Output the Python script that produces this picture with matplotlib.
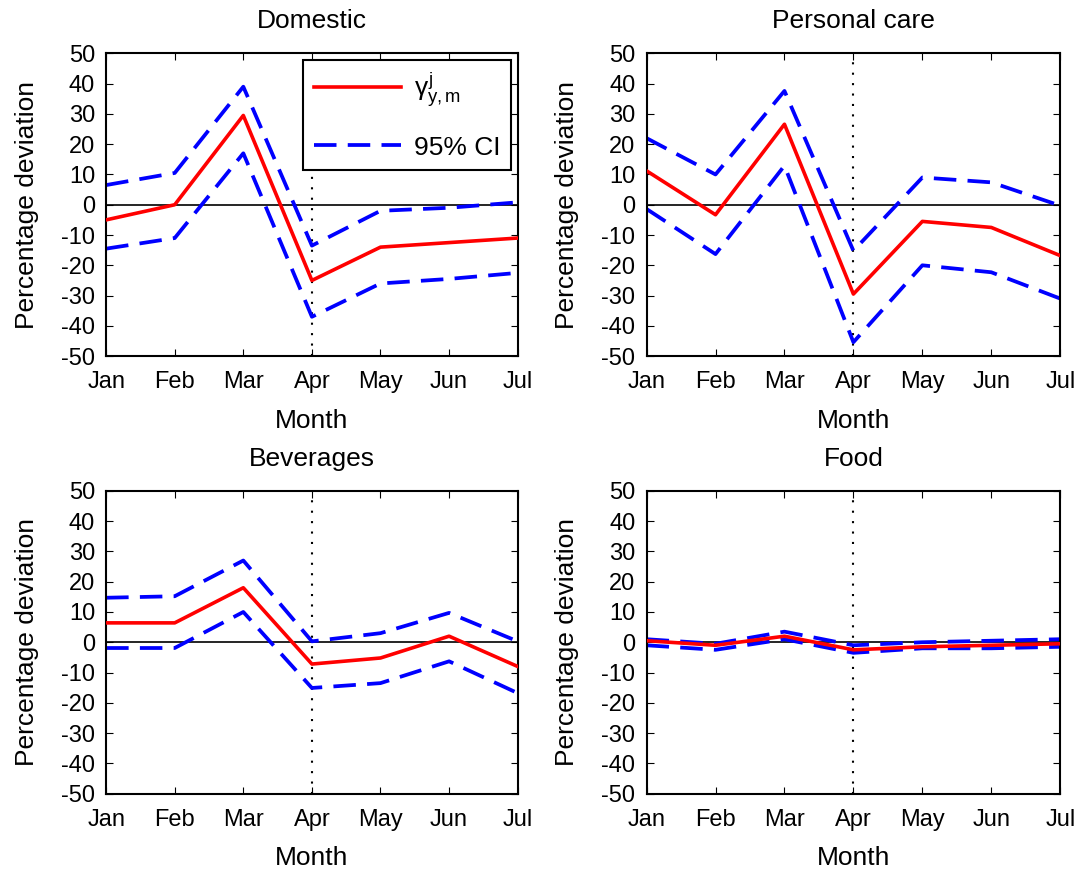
import numpy as np
import matplotlib
matplotlib.use("Agg")
import matplotlib.pyplot as plt

plt.rcParams['font.family'] = ['Liberation Sans', 'DejaVu Sans']
plt.rcParams['axes.unicode_minus'] = False
plt.rcParams['mathtext.fontset'] = 'custom'
plt.rcParams['mathtext.rm'] = 'Liberation Sans'
plt.rcParams['mathtext.it'] = 'Liberation Sans'

months = ['Jan', 'Feb', 'Mar', 'Apr', 'May', 'Jun', 'Jul']
panels = ['Domestic', 'Personal care', 'Beverages', 'Food']

# point estimates and 95% bounds (percentage deviation)
domestic_est = [-5, 0, 29.5, -25, -14, -12.5, -11]
domestic_hi = [6.5, 10.5, 39, -13.5, -2, -1, 0.8]
domestic_lo = [-14.5, -11, 17, -37, -26, -24.5, -22.5]

personal_est = [11.2, -3.3, 26.6, -29.5, -5.5, -7.5, -16.8]
personal_hi = [22, 10, 37.6, -15.2, 9, 7.4, -0.3]
personal_lo = [-1.4, -16.3, 12.9, -45.4, -20, -22.3, -31]

beverages_est = [6.4, 6.4, 18, -7.2, -5.2, 2, -8]
beverages_hi = [14.7, 15.2, 27, 0.3, 3, 9.7, 0.3]
beverages_lo = [-1.9, -1.9, 10, -15.1, -13.5, -6.3, -16.8]

food_est = [0.5, -1, 2, -2.5, -1.5, -1, -0.5]
food_hi = [1, -0.5, 3.5, -1, 0, 0.5, 1]
food_lo = [-1, -2.5, 1, -3.5, -2, -2, -1.5]

series = [
    (domestic_est, domestic_hi, domestic_lo),
    (personal_est, personal_hi, personal_lo),
    (beverages_est, beverages_hi, beverages_lo),
    (food_est, food_hi, food_lo),
]

fig = plt.figure(figsize=(10.83, 8.75), dpi=100)
boxes = [
    [0.098, 0.593, 0.380, 0.346],
    [0.597, 0.593, 0.382, 0.346],
    [0.098, 0.093, 0.380, 0.346],
    [0.597, 0.093, 0.382, 0.346],
]

x = np.arange(len(months))
tick_fs = 17
lab_fs = 19

for i, (title, (est, hi, lo)) in enumerate(zip(panels, series)):
    ax = fig.add_axes(boxes[i])
    ax.axhline(0, color='black', lw=1.2, zorder=1)
    ax.axvline(3, color='black', lw=1.5, ls=(0, (1, 4)), zorder=1)
    l1, = ax.plot(x, est, color='red', lw=2.6, zorder=3)
    l2, = ax.plot(x, hi, color='blue', lw=2.7, dashes=(6, 3), zorder=2)
    ax.plot(x, lo, color='blue', lw=2.7, dashes=(6, 3), zorder=2)

    ax.set_xlim(0, 6)
    ax.set_ylim(-50, 50)
    ax.set_xticks(x)
    ax.set_xticklabels(months)
    ax.set_yticks(np.arange(-50, 51, 10))
    ax.tick_params(direction='in', top=True, right=True, length=5,
                   labelsize=tick_fs)
    ax.tick_params(axis='x', pad=11)
    ax.tick_params(axis='y', pad=8)
    for s in ax.spines.values():
        s.set_linewidth(1.5)
    ax.set_title(title, fontsize=lab_fs, pad=18)
    ax.set_xlabel('Month', fontsize=lab_fs, labelpad=11)
    ax.set_ylabel('Percentage deviation', fontsize=lab_fs, labelpad=16)

    if i == 0:
        leg = ax.legend([l1, l2], [r'$\gamma^{j}_{y,m}$', '95% CI'],
                        loc='upper right', fontsize=lab_fs, handlelength=3.3,
                        fancybox=False, framealpha=1, edgecolor='black',
                        borderaxespad=0.25, labelspacing=1.0,
                        handletextpad=0.5)
        leg.get_frame().set_linewidth(1.5)

fig.savefig('out.png', dpi=100)
